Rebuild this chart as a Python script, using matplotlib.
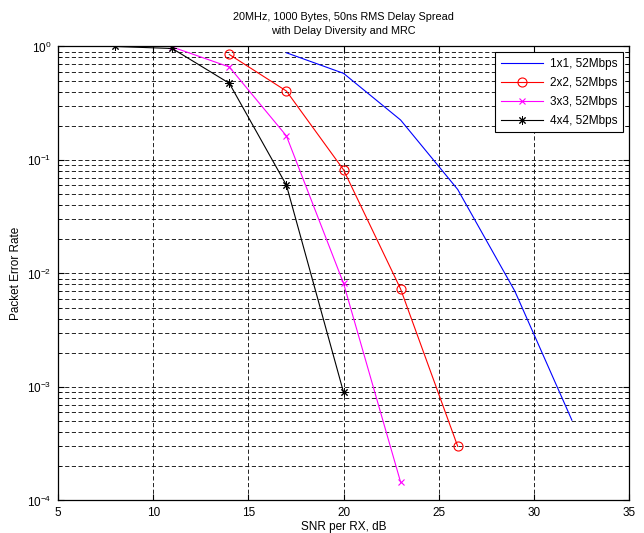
import numpy as np
import matplotlib
matplotlib.use('Agg')
from matplotlib import pyplot as plt
from matplotlib.ticker import LogLocator, NullFormatter

plt.rcParams['font.family'] = ['Liberation Sans', 'DejaVu Sans']
plt.rcParams['font.size'] = 8.5

# data
snr_1x1 = [17, 20, 23, 26, 29, 32]
per_1x1 = [0.88, 0.58, 0.225, 0.055, 0.0070, 5.1e-4]

snr_2x2 = [14, 17, 20, 23, 26]
per_2x2 = [0.85, 0.405, 0.082, 0.0073, 3.0e-4]

snr_3x3 = [11, 14, 17, 20, 23]
per_3x3 = [0.99, 0.66, 0.163, 0.0082, 1.45e-4]

snr_4x4 = [8, 11, 14, 17, 20]
per_4x4 = [1.0, 0.96, 0.474, 0.060, 9.0e-4]

labels = ['1x1, 52Mbps', '2x2, 52Mbps', '3x3, 52Mbps', '4x4, 52Mbps']

fig = plt.figure(figsize=(6.44, 5.33), dpi=100)
ax = fig.add_axes([0.0901, 0.0610, 0.8866, 0.8518])

ax.semilogy(snr_1x1, per_1x1, color='blue', lw=0.8, label=labels[0])
ax.semilogy(snr_2x2, per_2x2, color='red', lw=0.8, marker='o', ms=6.5,
            mfc='none', mew=0.8, label=labels[1])
ax.semilogy(snr_3x3, per_3x3, color='magenta', lw=0.8, marker='x', ms=4,
            mew=0.8, label=labels[2])
ax.semilogy(snr_4x4, per_4x4, color='black', lw=0.8, marker=(8, 2, 0), ms=6,
            mew=0.7, label=labels[3])

ax.set_xlim(5, 35)
ax.set_ylim(1e-4, 1)
ax.set_xticks([5, 10, 15, 20, 25, 30, 35])
ax.yaxis.set_major_locator(LogLocator(base=10, numticks=10))
ax.yaxis.set_minor_locator(LogLocator(base=10, subs=np.arange(2, 10), numticks=20))
ax.yaxis.set_minor_formatter(NullFormatter())

# matlab-like grid and ticks
ax.grid(True, which='major', color='black', ls=(0, (5, 3)), lw=0.6)
ax.grid(True, which='minor', axis='y', color='black', ls=(0, (5, 3)), lw=0.6)
ax.tick_params(which='both', direction='in', top=True, right=True)
ax.tick_params(which='major', length=4, pad=5)
ax.tick_params(which='minor', length=2.5)
for s in ax.spines.values():
    s.set_linewidth(0.9)

ax.set_xlabel('SNR per RX, dB', labelpad=1)
ax.set_ylabel('Packet Error Rate', labelpad=3)
ax.set_title('20MHz, 1000 Bytes, 50ns RMS Delay Spread\nwith Delay Diversity and MRC',
             fontsize=7.8, pad=9, linespacing=1.5)

leg = ax.legend(loc='upper right', handlelength=3.6, labelspacing=0.6,
                borderaxespad=0.5, fancybox=False, framealpha=1,
                edgecolor='black', borderpad=0.45, handletextpad=0.6)
leg.get_frame().set_linewidth(0.8)

plt.savefig('out.png', dpi=100)
